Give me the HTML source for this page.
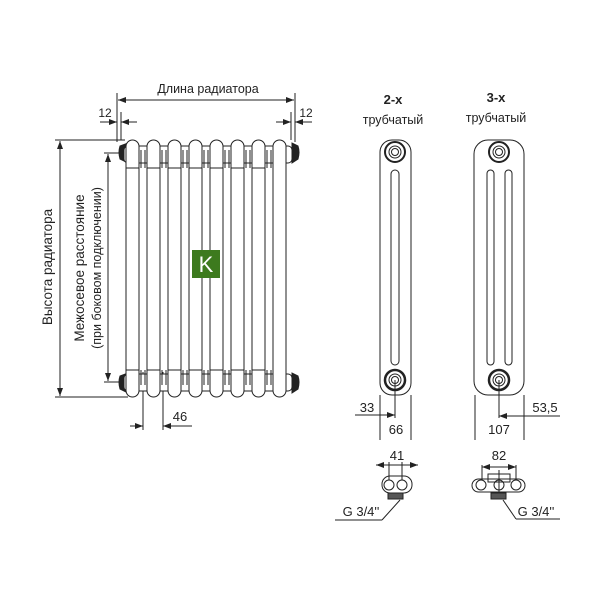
<!DOCTYPE html>
<html><head><meta charset="utf-8"><style>
html,body{margin:0;padding:0;background:#fff;width:600px;height:600px;overflow:hidden}
text{font-family:"Liberation Sans",sans-serif;fill:#222}
</style></head><body>
<svg width="600" height="600" viewBox="0 0 600 600" xmlns="http://www.w3.org/2000/svg">
<defs>
<marker id="a" markerWidth="8" markerHeight="6" refX="8" refY="3" orient="auto-start-reverse" markerUnits="userSpaceOnUse"><path d="M0,0 L8,3 L0,6z" fill="#222"/></marker>
</defs>
<g stroke="#222" stroke-width="1" fill="none">
<line x1="117" y1="93" x2="117" y2="142"/><line x1="295" y1="93" x2="295" y2="142"/>
<line x1="118" y1="100" x2="294" y2="100" marker-start="url(#a)" marker-end="url(#a)"/>
<line x1="121" y1="112" x2="121" y2="140"/><line x1="291" y1="112" x2="291" y2="140"/>
<line x1="100" y1="122" x2="117" y2="122" marker-end="url(#a)"/><line x1="121" y1="122" x2="137" y2="122" marker-start="url(#a)"/>
<line x1="276" y1="122" x2="291" y2="122" marker-end="url(#a)"/><line x1="295" y1="122" x2="312" y2="122" marker-start="url(#a)"/>
<line x1="55" y1="140" x2="125" y2="140"/><line x1="55" y1="397" x2="128" y2="397"/>
<line x1="60" y1="141" x2="60" y2="396" marker-start="url(#a)" marker-end="url(#a)"/>
<line x1="104" y1="153" x2="120" y2="153"/><line x1="104" y1="382" x2="120" y2="382"/>
<line x1="108" y1="154" x2="108" y2="381" marker-start="url(#a)" marker-end="url(#a)"/>
<line x1="143" y1="372" x2="143" y2="430"/><line x1="163" y1="372" x2="163" y2="430"/>
<line x1="130" y1="426" x2="143" y2="426" marker-end="url(#a)"/><line x1="163" y1="426" x2="192" y2="426" marker-start="url(#a)"/>
</g>
<g stroke="#222" stroke-width="1" fill="#fff">
<path d="M120,146 Q118,152 120,159 L128,163 L128,143Z" fill="#222"/>
<path d="M292,143 L292,163 L298,159 Q300,152 298,146Z" fill="#222"/>
<path d="M120,376 Q118,382 120,389 L128,393 L128,373Z" fill="#222"/>
<path d="M292,373 L292,393 L298,389 Q300,382 298,376Z" fill="#222"/>
<rect x="124" y="146" width="168" height="17" rx="4"/>
<rect x="124" y="374" width="168" height="17" rx="4"/>
<g id="t">
<rect x="126" y="140" width="13" height="257" rx="6.5"/>
<line x1="126" y1="168" x2="139" y2="168"/><line x1="126" y1="370" x2="139" y2="370"/>
<line x1="141" y1="150" x2="141" y2="168" /><line x1="145" y1="150" x2="145" y2="168"/>
<line x1="141" y1="370" x2="141" y2="385"/><line x1="145" y1="370" x2="145" y2="385"/>
</g>
<use href="#t" x="21"/><use href="#t" x="42"/><use href="#t" x="63"/><use href="#t" x="84"/><use href="#t" x="105"/><use href="#t" x="126"/>
<rect x="273" y="140" width="13" height="257" rx="6.5"/>
</g>
<rect x="192" y="250" width="28" height="28" fill="#3d7a1e"/>
<text x="206" y="272" font-size="22" text-anchor="middle" style="fill:#fff">K</text>
<text x="208" y="93" font-size="12.5" text-anchor="middle">Длина радиатора</text>
<text x="105" y="117" font-size="12" text-anchor="middle">12</text>
<text x="306" y="117" font-size="12" text-anchor="middle">12</text>
<text x="180" y="421" font-size="13" text-anchor="middle">46</text>
<text transform="translate(52,267) rotate(-90)" font-size="13.5" text-anchor="middle">Высота радиатора</text>
<text transform="translate(84,268) rotate(-90)" font-size="13.5" text-anchor="middle">Межосевое расстояние</text>
<text transform="translate(101,268) rotate(-90)" font-size="12.5" text-anchor="middle">(при боковом подключении)</text>
<g stroke="#222" stroke-width="1" fill="none">
<rect x="380" y="140" width="31" height="255" rx="12"/>
<rect x="391" y="170" width="8" height="195" rx="4"/>
<circle cx="395" cy="152" r="10" stroke-width="2"/><circle cx="395" cy="152" r="6"/><circle cx="395" cy="152" r="3.5"/>
<circle cx="395" cy="380" r="10" stroke-width="2.5"/><circle cx="395" cy="380" r="6"/><circle cx="395" cy="380" r="3.5"/>
<rect x="474" y="140" width="50" height="255" rx="14"/>
<rect x="487" y="170" width="7" height="195" rx="3.5"/><rect x="505" y="170" width="7" height="195" rx="3.5"/>
<circle cx="499" cy="152" r="10" stroke-width="2"/><circle cx="499" cy="152" r="6"/><circle cx="499" cy="152" r="3.5"/>
<circle cx="499" cy="380" r="10" stroke-width="2.5"/><circle cx="499" cy="380" r="6"/><circle cx="499" cy="380" r="3.5"/>
<line x1="380" y1="395" x2="380" y2="440"/><line x1="411" y1="395" x2="411" y2="440"/>
<line x1="395" y1="380" x2="395" y2="418"/>
<line x1="355" y1="415" x2="395" y2="415" marker-end="url(#a)"/>
<line x1="475" y1="395" x2="475" y2="440"/><line x1="524" y1="395" x2="524" y2="440"/>
<line x1="499" y1="380" x2="499" y2="418"/>
<line x1="499" y1="416" x2="560" y2="416" marker-start="url(#a)"/>
<line x1="376" y1="465" x2="418" y2="465" marker-start="url(#a)" marker-end="url(#a)"/>
<line x1="389" y1="462" x2="389" y2="480"/><line x1="402" y1="462" x2="402" y2="480"/>
<rect x="382" y="476" width="30" height="17" rx="8"/>
<circle cx="389" cy="485" r="5"/><circle cx="402" cy="485" r="5"/>
<rect x="388" y="493" width="15" height="6" fill="#555"/>
<line x1="400" y1="500" x2="382" y2="520"/><line x1="382" y1="520" x2="335" y2="520"/>
<line x1="482" y1="467" x2="516" y2="467" marker-start="url(#a)" marker-end="url(#a)"/>
<line x1="482" y1="465" x2="482" y2="480"/><line x1="516" y1="465" x2="516" y2="480"/>
<line x1="499" y1="470" x2="499" y2="492"/>
<rect x="488" y="474" width="22" height="8"/>
<rect x="472" y="479" width="53" height="13" rx="6.5"/>
<circle cx="481" cy="485" r="5"/><circle cx="499" cy="485" r="5"/><circle cx="516" cy="485" r="5"/>
<rect x="491" y="493" width="15" height="6" fill="#555"/>
<line x1="503" y1="500" x2="516" y2="519"/><line x1="516" y1="519" x2="560" y2="519"/>
</g>
<text x="393" y="104" font-size="13" font-weight="bold" text-anchor="middle">2-х</text>
<text x="393" y="124" font-size="12.5" text-anchor="middle">трубчатый</text>
<text x="496" y="102" font-size="13" font-weight="bold" text-anchor="middle">3-х</text>
<text x="496" y="122" font-size="12.5" text-anchor="middle">трубчатый</text>
<text x="367" y="412" font-size="13" text-anchor="middle">33</text>
<text x="396" y="434" font-size="13" text-anchor="middle">66</text>
<text x="499" y="434" font-size="13" text-anchor="middle">107</text>
<text x="545" y="412" font-size="13" text-anchor="middle">53,5</text>
<text x="397" y="460" font-size="13" text-anchor="middle">41</text>
<text x="499" y="460" font-size="13" text-anchor="middle">82</text>
<text x="361" y="516" font-size="13" text-anchor="middle">G 3/4''</text>
<text x="536" y="516" font-size="13" text-anchor="middle">G 3/4''</text>
</svg>
</body></html>
